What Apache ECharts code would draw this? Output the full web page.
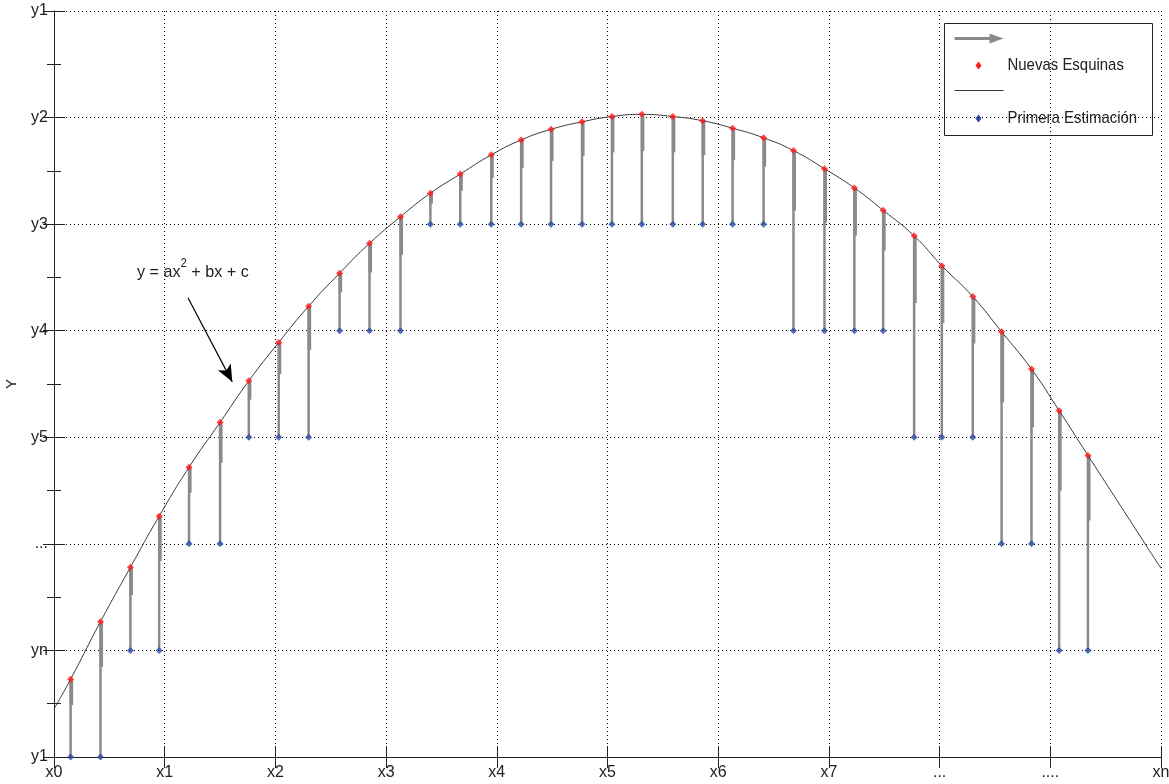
<!DOCTYPE html>
<html>
<head>
	<meta charset="utf-8">
	<title>Nuevas Esquinas</title>
	<script src="https://cdn.jsdelivr.net/npm/echarts@6/dist/echarts.min.js"></script>
	<style>
		html, body { margin: 0; padding: 0; background: #fff; }
	</style>
</head>
<body>
	<div id="main" style="width: 1169px; height: 784px"></div>
	<script type="text/javascript">
		// etiquetas de los ejes (de izquierda a derecha / de abajo a arriba)
		var xLabels = ['x0', 'x1', 'x2', 'x3', 'x4', 'x5', 'x6', 'x7', '...', '....', 'xn'];
		var yLabels = ['y1', 'yn', '...', 'y5', 'y4', 'y3', 'y2', 'y1'];

		// posicion x de cada flecha
		var stemX = [0.15, 0.42, 0.69, 0.95, 1.22, 1.50, 1.76, 2.03, 2.30, 2.58,
			2.85, 3.13, 3.40, 3.67, 3.95, 4.22, 4.49, 4.77, 5.04, 5.31,
			5.59, 5.86, 6.13, 6.41, 6.68, 6.96, 7.23, 7.49, 7.77, 8.02,
			8.30, 8.56, 8.83, 9.08, 9.34];
		// nuevas esquinas (sobre la curva)
		var nuevasY = [0.73, 1.27, 1.78, 2.26, 2.72, 3.14, 3.53, 3.89, 4.23, 4.54,
			4.82, 5.07, 5.29, 5.47, 5.65, 5.79, 5.89, 5.96, 6.01, 6.03,
			6.01, 5.97, 5.90, 5.81, 5.69, 5.52, 5.34, 5.13, 4.89, 4.61,
			4.32, 3.99, 3.64, 3.25, 2.83];
		// primera estimacion (en la rejilla)
		var primeraY = [0, 0, 1, 1, 2, 2, 3, 3, 3, 4,
			4, 4, 5, 5, 5, 5, 5, 5, 5, 5,
			5, 5, 5, 5, 4, 4, 4, 4, 3, 3,
			3, 2, 2, 1, 1];
		// extremos de la parabola en los bordes
		var curveStart = [0, 0.45];
		var curveEnd = [10, 1.77];

		var font = '"Liberation Sans", Arial, sans-serif';
		var axisColor = '#222';
		var stemColor = '#8a8a8a';

		var stems = stemX.map(function (x, i) { return [x, primeraY[i], nuevasY[i]]; });
		var red = stemX.map(function (x, i) { return [x, nuevasY[i]]; });
		var blue = stemX.map(function (x, i) { return [x, primeraY[i]]; });
		var curve = [curveStart].concat(red, [curveEnd]);

		function diamond(cx, cy, r, color) {
			return {
				type: 'polygon',
				shape: { points: [[cx, cy - r], [cx + r * 0.75, cy], [cx, cy + r], [cx - r * 0.75, cy]] },
				style: { fill: color }
			};
		}

		var myChart = echarts.init(document.getElementById('main'));

		var option = {
			backgroundColor: '#fff',
			animation: false,
			grid: { left: 54, right: 8, top: 11, bottom: 27, containLabel: false, outerBoundsMode: 'none' },
			xAxis: [{
				type: 'value', min: 0, max: 10, interval: 1,
				axisLine: { lineStyle: { color: axisColor } },
				axisTick: { inside: true, length: 11, lineStyle: { color: axisColor } },
				axisLabel: {
					margin: 8, color: '#222', fontFamily: font, fontSize: 16,
					formatter: function (v) { return xLabels[Math.round(v)]; }
				},
				splitLine: { show: true, lineStyle: { color: '#000', type: [1, 3] } }
			}, {
				type: 'value', position: 'top', min: 0, max: 10, interval: 1,
				axisLine: { lineStyle: { color: axisColor } },
				axisTick: { inside: true, length: 11, lineStyle: { color: axisColor } },
				axisLabel: { show: false },
				splitLine: { show: false }
			}],
			yAxis: [{
				type: 'value', min: 0, max: 7, interval: 1,
				name: 'Y', nameLocation: 'middle', nameGap: 35, nameRotate: 90,
				nameTextStyle: { color: '#222', fontFamily: font, fontSize: 15 },
				axisLine: { show: true, lineStyle: { color: axisColor } },
				axisTick: { inside: true, length: 11, lineStyle: { color: axisColor } },
				minorTick: { show: true, splitNumber: 2, length: 7, lineStyle: { color: axisColor } },
				axisLabel: {
					margin: 6, color: '#222', fontFamily: font, fontSize: 16,
					formatter: function (v) { return yLabels[Math.round(v)]; }
				},
				splitLine: { show: true, lineStyle: { color: '#000', type: [1, 3] } }
			}, {
				type: 'value', position: 'right', min: 0, max: 7, interval: 1,
				axisLine: { show: true, lineStyle: { color: axisColor } },
				axisTick: { inside: true, length: 11, lineStyle: { color: axisColor } },
				minorTick: { show: true, splitNumber: 2, length: 7, lineStyle: { color: axisColor } },
				axisLabel: { show: false },
				splitLine: { show: false }
			}],
			series: [{
				type: 'custom',
				name: 'flechas',
				z: 1,
				data: stems,
				encode: { x: 0, y: [1, 2] },
				renderItem: function (params, api) {
					var x = api.value(0);
					var p0 = api.coord([x, api.value(1)]);
					var p1 = api.coord([x, api.value(2)]);
					var hy = p1[1] + (p0[1] - p1[1]) / 3;
					return {
						type: 'group',
						children: [{
							type: 'line',
							shape: { x1: p0[0], y1: p0[1], x2: p1[0], y2: p1[1] },
							style: { stroke: stemColor, lineWidth: 2.5 }
						}, {
							type: 'line',
							shape: { x1: p1[0] + 0.8, y1: p1[1], x2: p1[0] + 0.8, y2: hy },
							style: { stroke: stemColor, lineWidth: 3.5 }
						}]
					};
				}
			}, {
				type: 'line',
				name: 'curva',
				z: 2,
				data: curve,
				smooth: true,
				showSymbol: false,
				lineStyle: { color: '#3a3a3a', width: 1 },
				markLine: {
					silent: true,
					symbol: ['none', 'arrow'],
					symbolSize: [11, 17],
					label: { show: false },
					lineStyle: { color: '#000', width: 1.2, type: 'solid' },
					data: [[{ coord: [1.21, 4.31] }, { coord: [1.61, 3.52] }]]
				}
			}, {
				type: 'scatter',
				name: 'Nuevas Esquinas',
				z: 3,
				data: red,
				symbol: 'diamond',
				symbolSize: 7,
				itemStyle: { color: '#ff1a1a' }
			}, {
				type: 'scatter',
				name: 'Primera Estimación',
				z: 3,
				data: blue,
				symbol: 'diamond',
				symbolSize: 7,
				clip: false,
				itemStyle: { color: '#2a4aa8' }
			}],
			graphic: [{
				type: 'text',
				left: 137, top: 258,
				scaleX: 0.95,
				style: {
					text: '{n|y = ax}{s|2}{n| + bx + c}',
					fill: '#222',
					rich: {
						n: { fontSize: 17, fontFamily: font, lineHeight: 28, verticalAlign: 'middle' },
						s: { fontSize: 12, fontFamily: font, lineHeight: 14, verticalAlign: 'top' }
					}
				}
			}, {
				type: 'group',
				left: 944, top: 23,
				children: [{
					type: 'rect',
					shape: { x: 0, y: 0, width: 208, height: 112 },
					style: { fill: '#fff', stroke: '#222', lineWidth: 1 }
				}, {
					type: 'line',
					shape: { x1: 10, y1: 15, x2: 48, y2: 15 },
					style: { stroke: stemColor, lineWidth: 3 }
				}, {
					type: 'polygon',
					shape: { points: [[45, 10], [59, 15], [45, 20]] },
					style: { fill: stemColor }
				},
				diamond(34, 42, 4, '#ff1a1a'),
				{
					type: 'text',
					x: 63, y: 42, scaleX: 0.88,
					style: { text: 'Nuevas Esquinas', font: '17px ' + font, fill: '#222', verticalAlign: 'middle' }
				}, {
					type: 'line',
					shape: { x1: 10, y1: 67, x2: 59, y2: 67 },
					style: { stroke: '#3a3a3a', lineWidth: 1 }
				},
				diamond(34, 95, 4, '#2a4aa8'),
				{
					type: 'text',
					x: 63, y: 95, scaleX: 0.88,
					style: { text: 'Primera Estimación', font: '17px ' + font, fill: '#222', verticalAlign: 'middle' }
				}]
			}]
		};

		myChart.setOption(option);
	</script>
</body>
</html>
